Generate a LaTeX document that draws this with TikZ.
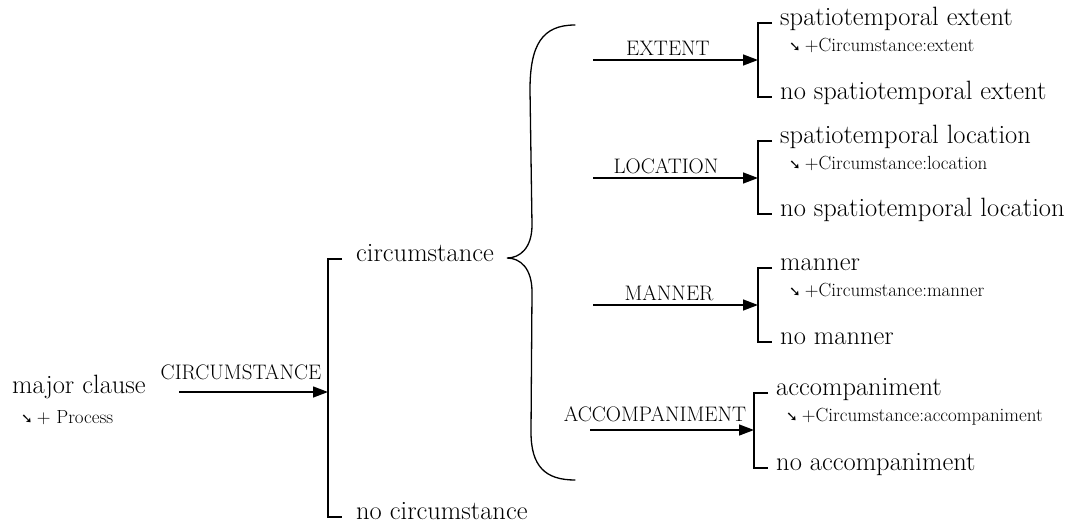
\documentclass[tikz,border=0pt]{standalone}
\usepackage{fontspec}
\newfontfamily\symfont{DejaVu Sans}
\usetikzlibrary{arrows.meta}

\newcommand{\feat}[1]{{\symfont\fontsize{14pt}{14pt}\selectfont ➘}\hspace{4pt}#1}

\begin{document}
\begin{tikzpicture}[x=1pt,y=-1pt,
  term/.style={inner sep=0pt,font=\fontsize{26.5pt}{28pt}\selectfont},
  realise/.style={inner sep=0pt,anchor=base west,font=\fontsize{19pt}{21pt}\selectfont},
  sysname/.style={inner sep=0pt,anchor=base,font=\fontsize{21pt}{23pt}\selectfont},
  bracket/.style={line width=1.4pt},
  entry/.style={line width=1.4pt,-{Triangle[length=15pt,width=11pt]}},
  brace/.style={line width=1.3pt,line cap=round}]
\useasboundingbox (0,0) rectangle (1076,525);

% entry condition
\node[term,anchor=base west] (mc) at (12,393) {major clause};
\node[realise] (proc) at (21,423) {\feat{+ Process}};

% CIRCUMSTANCE system
\coordinate (cStart) at (179,392);
\coordinate (cBar) at (328,392);
\node[sysname] (cLab) at (241,379) {CIRCUMSTANCE};
\draw[entry] (cStart) -- (cBar);
\node[term,anchor=mid west] (circ) at (356,259) {circumstance};
\node[term,anchor=mid west] (nocirc) at (356,517) {no circumstance};
\draw[bracket] ([xshift=-14pt]circ.mid west) -| (cBar) |- ([xshift=-14pt]nocirc.mid west);

% brace gathering the simultaneous systems
\coordinate (tip) at (507,258);
\draw[brace] (575,25) .. controls (542,25) and (530,45) .. (530,90)
  -- (532,225) .. controls (532,248) and (520,258) .. (tip)
  .. controls (520,258) and (532,268) .. (532,292)
  -- (531,432) .. controls (531,466) and (545,480) .. (575,480);

% EXTENT
\coordinate (eStart) at (593,60);
\coordinate (eBar) at (758,60);
\node[sysname] (eLab) at (668,55) {EXTENT};
\draw[entry] (eStart) -- (eBar);
\node[term,anchor=mid west] (ext) at (780,23) {spatiotemporal extent};
\node[realise] (extR) at (789,51) {\feat{+Circumstance:extent}};
\node[term,anchor=mid west] (noext) at (780,97) {no spatiotemporal extent};
\draw[bracket] ([xshift=-8pt]ext.mid west) -| (eBar) |- ([xshift=-8pt]noext.mid west);

% LOCATION
\coordinate (lStart) at (593,178);
\coordinate (lBar) at (758,178);
\node[sysname] (lLab) at (666,173) {LOCATION};
\draw[entry] (lStart) -- (lBar);
\node[term,anchor=mid west] (loc) at (780,141) {spatiotemporal location};
\node[realise] (locR) at (789,169) {\feat{+Circumstance:location}};
\node[term,anchor=mid west] (noloc) at (780,214) {no spatiotemporal location};
\draw[bracket] ([xshift=-8pt]loc.mid west) -| (lBar) |- ([xshift=-8pt]noloc.mid west);

% MANNER
\coordinate (mStart) at (593,305);
\coordinate (mBar) at (758,305);
\node[sysname] (mLab) at (669,300) {MANNER};
\draw[entry] (mStart) -- (mBar);
\node[term,anchor=mid west] (man) at (780,268) {manner};
\node[realise] (manR) at (789,296) {\feat{+Circumstance:manner}};
\node[term,anchor=mid west] (noman) at (780,342) {no manner};
\draw[bracket] ([xshift=-8pt]man.mid west) -| (mBar) |- ([xshift=-8pt]noman.mid west);

% ACCOMPANIMENT
\coordinate (aStart) at (590,430);
\coordinate (aBar) at (754,430);
\node[sysname] (aLab) at (655,421) {ACCOMPANIMENT};
\draw[entry] (aStart) -- (aBar);
\node[term,anchor=mid west] (acc) at (776,393) {accompaniment};
\node[realise] (accR) at (786,421) {\feat{+Circumstance:accompaniment}};
\node[term,anchor=mid west] (noacc) at (776,468) {no accompaniment};
\draw[bracket] ([xshift=-8pt]acc.mid west) -| (aBar) |- ([xshift=-8pt]noacc.mid west);
\end{tikzpicture}
\end{document}
